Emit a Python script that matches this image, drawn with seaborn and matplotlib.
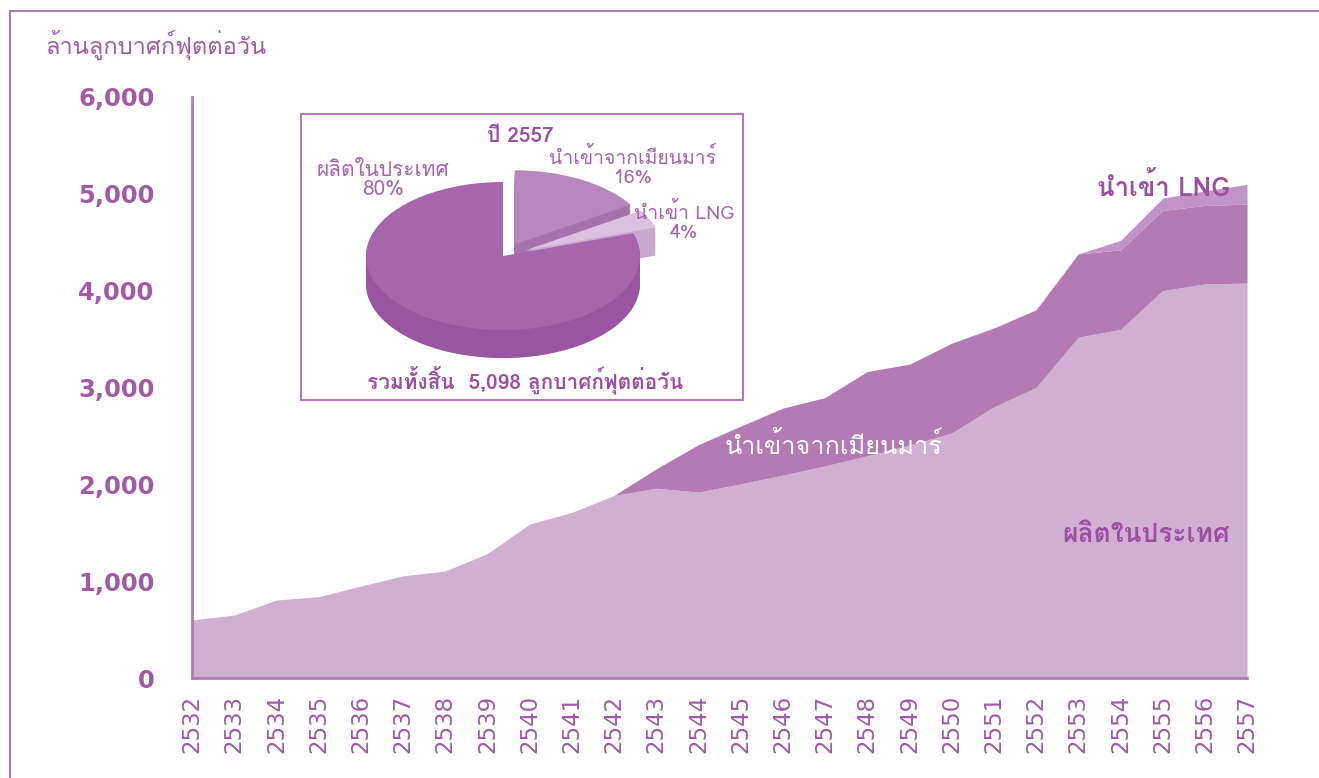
import matplotlib
matplotlib.use("Agg")
import matplotlib.pyplot as plt
import matplotlib.patches as mpatches
import matplotlib.lines as mlines
import seaborn as sns
import pandas as pd
import numpy as np

# ข้อมูล (ล้านลูกบาศก์ฟุตต่อวัน)
years = list(range(2532, 2558))
domestic = [600, 650, 805, 840, 950, 1055, 1105, 1285, 1590, 1710,
            1885, 1960, 1920, 2005, 2095, 2190, 2295, 2405, 2530, 2800,
            3000, 3520, 3600, 4000, 4070, 4078]
myanmar = [0] * 10 + [0, 200, 490, 596, 692, 706, 870, 836, 927, 815,
                      802, 860, 821, 828, 810, 816]
lng = [0] * 22 + [97, 127, 150, 204]

y_ticks = [0, 1000, 2000, 3000, 4000, 5000, 6000]

pie_labels = ["นำเข้าจากเมียนมาร์", "นำเข้า LNG", "ผลิตในประเทศ"]
pie_shares = [16, 4, 80]
pie_total = 5098

C_DOM = "#d1afd3"
C_MYA = "#b37ab3"
C_LNG = "#c193c6"
C_AXIS = "#b07ab8"
C_TEXT = "#9c4fa0"
C_PIETXT = "#a664ac"

sns.set_style("white")
THAI = ["Loma", "Noto Sans Thai Looped", "DejaVu Sans"]
plt.rcParams["font.family"] = ["DejaVu Sans", "Loma"]

df = pd.DataFrame({"year": years, "domestic": domestic, "myanmar": myanmar, "lng": lng})
df["top_dom"] = df["domestic"]
df["top_mya"] = df["top_dom"] + df["myanmar"]
df["top_lng"] = df["top_mya"] + df["lng"]

fig = plt.figure(figsize=(13.19, 7.78), dpi=100)
ax = fig.add_axes([192 / 1319, 100 / 778, 1055 / 1319, 581 / 778])

ax.fill_between(df["year"], 0, df["top_dom"], color=C_DOM, lw=0)
ax.fill_between(df["year"], df["top_dom"], df["top_mya"], color=C_MYA, lw=0)
ax.fill_between(df["year"], df["top_mya"], df["top_lng"], color=C_LNG, lw=0,
                where=df["year"] >= 2553)

ax.set_xlim(2532, 2557)
ax.set_ylim(0, 6000)
ax.set_xticks(years)
ax.set_xticklabels([str(y) for y in years], rotation=90, fontsize=16.5, color="#a05aa8")
ax.set_yticks(y_ticks)
ax.set_yticklabels([f"{v:,}" for v in y_ticks], fontsize=17.5, fontweight="bold", color="#a25aa6")
ax.tick_params(axis="y", length=9, width=1.5, color=C_AXIS, pad=18, direction="out")
ax.tick_params(axis="x", length=8, width=1.2, color=C_AXIS, pad=4, direction="out")
sns.despine(ax=ax)
for s in ["left", "bottom"]:
    ax.spines[s].set_color(C_AXIS)
    ax.spines[s].set_linewidth(2)
ax.grid(False)

# ป้ายของพื้นที่
ax.text(2557 - 0.4, 5080, "นำเข้า LNG", ha="right", va="center", fontsize=18.5,
        color=C_TEXT, family=THAI, fontweight="bold")
ax.text(2547.2, 2400, "นำเข้าจากเมียนมาร์", ha="center", va="center", fontsize=18.2,
        color="white", family=THAI)
ax.text(2557 - 0.4, 1480, "ผลิตในประเทศ", ha="right", va="center", fontsize=19,
        color=C_TEXT, family=THAI, fontweight="bold")

fig.text(45 / 1319, 1 - 45 / 778, "ล้านลูกบาศก์ฟุตต่อวัน", ha="left", va="center",
         fontsize=17, color="#a05aa8", family=THAI)

# กรอบรูป
fig.add_artist(mlines.Line2D([10 / 1319, 1], [1 - 11 / 778, 1 - 11 / 778],
                             transform=fig.transFigure, color=C_AXIS, lw=1.5))
fig.add_artist(mlines.Line2D([10 / 1319, 10 / 1319], [0, 1 - 11 / 778],
                             transform=fig.transFigure, color=C_AXIS, lw=1.5))

# กรอบแผนภูมิวงกลม
fig.add_artist(mpatches.Rectangle((301 / 1319, 1 - 400 / 778), 442 / 1319, 286 / 778,
                                  transform=fig.transFigure, fill=False,
                                  ec=C_AXIS, lw=1.5))

# แผนภูมิวงกลมแบบ 3 มิติ
pax = fig.add_axes([283.8 / 1319, 1 - 374.4 / 778, 438.4 / 1319, 236.8 / 778])
explode = [0.18, 0.18, 0]
side_colors = ["#a672ab", "#c9a8cf", "#9a55a0"]
top_colors = ["#b987be", "#dcc0e1", "#a766ab"]
depth = 0.38
n_layers = 24
for k in range(n_layers, 0, -1):
    off = depth * k / n_layers
    pax.pie(pie_shares, colors=side_colors, startangle=90, counterclock=False,
            explode=explode, center=(0, -off), wedgeprops=dict(linewidth=0))
pax.pie(pie_shares, colors=top_colors, startangle=90, counterclock=False,
        explode=explode, center=(0, 0), wedgeprops=dict(linewidth=0))
pax.set_aspect("auto")
pax.set_xlim(-1.6, 1.6)
pax.set_ylim(-1.6, 1.6)
pax.axis("off")

fig.text(520 / 1319, 1 - 136 / 778, "ปี 2557", ha="center", va="center", fontsize=15,
         fontweight="bold", color=C_TEXT, family=THAI)
fig.text(383 / 1319, 1 - 180 / 778, f"{pie_labels[2]}\n{pie_shares[2]}%", ha="center",
         va="center", fontsize=15, color=C_PIETXT, family=THAI, linespacing=1.0)
fig.text(633 / 1319, 1 - 167 / 778, f"{pie_labels[0]}\n{pie_shares[0]}%", ha="center",
         va="center", fontsize=14, color=C_PIETXT, family=THAI, linespacing=1.05)
fig.text(684 / 1319, 1 - 222 / 778, f"{pie_labels[1]}\n{pie_shares[1]}%", ha="center",
         va="center", fontsize=14, color=C_PIETXT, family=THAI, linespacing=1.05)
fig.text(525 / 1319, 1 - 380 / 778, f"รวมทั้งสิ้น  {pie_total:,} ลูกบาศก์ฟุตต่อวัน",
         ha="center", va="center", fontsize=15, fontweight="bold", color=C_TEXT, family=THAI)

fig.savefig("out.png", dpi=100)
